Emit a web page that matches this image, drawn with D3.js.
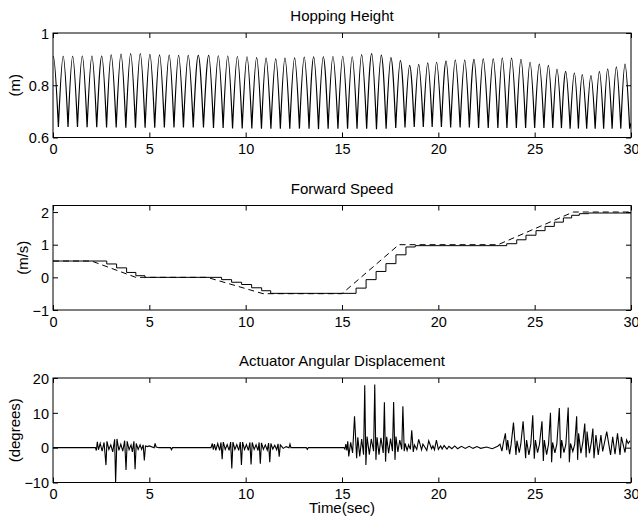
<!DOCTYPE html>
<html>
<head>
<meta charset="utf-8">
<script src="https://cdn.jsdelivr.net/npm/d3@7"></script>
<style>
  html, body { margin: 0; padding: 0; background: #fff; }
  svg { display: block; }
  text { font-family: "Liberation Sans", Arial, Helvetica, sans-serif; fill: #000; }
</style>
</head>
<body>
<svg id="chart" width="638" height="523"></svg>
<script>
// ---------------- DATA ----------------
const xTicks = [0, 5, 10, 15, 20, 25, 30];

// Plot 1: Hopping Height (m)
const hopTicks = [0.6, 0.8, 1];
const hopPeakT = [0.02,0.53,1.02,1.52,2.02,2.53,3.02,3.53,4.03,4.53,5.03,5.53,6.03,6.52,7.02,7.54,8.08,8.58,9.07,9.57,10.07,10.57,11.06,11.56,12.04,12.54,13.04,13.53,14.03,14.53,15.04,15.53,16.02,16.54,17.04,17.54,18.03,18.51,18.98,19.45,19.91,20.4,20.88,21.37,21.85,22.33,22.85,23.32,23.8,24.29,24.76,25.24,25.71,26.16,26.61,27.06,27.47,27.92,28.36,28.79,29.24,29.69];
const hopPeakH = [0.910,0.911,0.911,0.912,0.912,0.912,0.916,0.919,0.921,0.921,0.918,0.916,0.915,0.914,0.914,0.914,0.914,0.913,0.912,0.910,0.909,0.906,0.904,0.901,0.904,0.905,0.908,0.909,0.909,0.910,0.911,0.909,0.917,0.921,0.915,0.906,0.894,0.876,0.880,0.886,0.888,0.892,0.896,0.896,0.899,0.901,0.901,0.904,0.904,0.899,0.888,0.881,0.876,0.862,0.853,0.847,0.841,0.837,0.853,0.863,0.870,0.881];
const hopTroughT = [0.28,0.78,1.27,1.77,2.27,2.78,3.28,3.78,4.28,4.78,5.28,5.78,6.28,6.77,7.28,7.81,8.33,8.83,9.32,9.82,10.32,10.82,11.31,11.8,12.29,12.79,13.29,13.78,14.28,14.79,15.29,15.78,16.28,16.79,17.29,17.79,18.27,18.75,19.22,19.68,20.16,20.64,21.13,21.61,22.09,22.59,23.09,23.56,24.05,24.53,25.0,25.48,25.94,26.39,26.84,27.27,27.7,28.14,28.58,29.02,29.47,29.93];
const hopTroughH = [0.640,0.640,0.640,0.639,0.639,0.638,0.638,0.637,0.637,0.637,0.637,0.638,0.638,0.638,0.638,0.638,0.636,0.636,0.635,0.635,0.635,0.634,0.634,0.634,0.634,0.634,0.634,0.632,0.634,0.634,0.634,0.634,0.634,0.632,0.634,0.636,0.638,0.640,0.640,0.640,0.640,0.638,0.638,0.638,0.636,0.636,0.636,0.636,0.636,0.636,0.636,0.636,0.636,0.636,0.634,0.634,0.634,0.634,0.634,0.634,0.634,0.634];
const hopStart = [-0.23, 0.640];
const hopEnd = [30, 0.655];

// Plot 2: Forward Speed (m/s)
const speedTicks = [-1, 0, 1, 2];
const desiredT = [0, 2.0, 4.3, 8.0, 10.9, 15.0, 17.95, 23.1, 27.0, 30];
const desiredV = [0.5, 0.5, 0, 0, -0.5, -0.5, 1.0, 1.0, 2.0, 2.0];
const actualT = [0, 2.79, 3.3, 3.82, 4.3, 4.77, 8.75, 9.27, 9.79, 10.31, 10.83, 11.3, 15.73, 16.25, 16.77, 17.28, 17.8, 18.32, 18.8, 23.55, 24.07, 24.55, 25.07, 25.54, 26.02, 26.49, 26.92, 27.32, 27.8, 30];
const actualV = [0.5, 0.41, 0.29, 0.15, 0.05, 0.0, -0.07, -0.15, -0.22, -0.32, -0.41, -0.49, -0.33, -0.07, 0.18, 0.42, 0.69, 0.93, 0.97, 1.03, 1.15, 1.29, 1.43, 1.56, 1.69, 1.82, 1.9, 1.95, 1.97, 1.97];

// Plot 3: Actuator Angular Displacement (degrees)
const actTicks = [-10, 0, 10, 20];
const actT = [0,2.2,2.25,2.3,2.36,2.45,2.55,2.65,2.75,2.8,2.9,3.0,3.1,3.2,3.25,3.32,3.42,3.52,3.62,3.72,3.79,3.85,3.95,4.05,4.12,4.2,4.26,4.32,4.42,4.52,4.6,4.68,4.74,4.8,4.9,5.0,5.25,5.3,5.35,5.5,6.1,6.15,6.2,8.2,
  8.27,8.32,8.38,8.45,8.55,8.65,8.72,8.78,8.84,8.94,9.04,9.14,9.22,9.28,9.34,9.44,9.54,9.64,9.72,9.78,9.84,9.94,10.04,10.14,10.22,10.28,10.34,10.44,10.54,10.64,10.7,10.76,10.82,10.92,11.02,11.12,11.19,11.25,11.31,11.41,11.51,11.61,11.68,11.74,11.8,11.95,12.1,12.25,12.3,12.35,12.5,13.15,13.2,13.25,15.1,
  15.15,15.2,15.25,15.3,15.35,15.45,15.55,15.65,15.76,15.82,15.92,16.02,16.12,16.18,16.24,16.3,16.42,16.52,16.64,16.7,16.76,16.82,16.92,17.02,17.14,17.2,17.26,17.32,17.42,17.52,17.62,17.68,17.75,17.8,17.9,18.0,18.1,18.16,18.23,18.28,18.38,18.46,18.55,18.62,18.7,18.76,18.88,18.98,19.13,19.2,19.32,19.4,19.5,19.65,19.72,19.8,19.9,20.0,20.12,20.2,20.3,20.45,20.55,20.7,20.85,21.0,21.2,21.4,21.6,21.8,22.0,22.2,22.5,22.8,23.1,
  23.2,23.3,23.38,23.48,23.55,23.6,23.7,23.78,23.9,24.03,24.08,24.2,24.28,24.4,24.53,24.58,24.7,24.8,24.9,24.98,25.04,25.15,25.25,25.38,25.45,25.5,25.62,25.72,25.82,25.88,25.93,26.05,26.15,26.28,26.35,26.4,26.52,26.62,26.74,26.8,26.86,26.98,27.08,27.18,27.23,27.28,27.4,27.5,27.6,27.67,27.72,27.84,27.94,28.02,28.08,28.18,28.3,28.44,28.53,28.74,28.94,29.05,29.17,29.3,29.43,29.5,29.69,29.77,29.86,29.95,30];
const actV = [0,0,-0.8,1.7,-0.6,1.2,-1.0,1.5,-5.0,1.8,-0.5,0.8,-1.2,2.4,-10,2.5,-0.8,1.0,-1.0,2.0,-6.4,1.8,-0.6,0.8,-1.2,1.8,-6.2,1.2,-0.5,0.8,-0.5,0.8,-3.7,0.5,0.3,0.5,0,1.2,0.2,0,0,-0.6,0,0,
  1.2,-0.6,1.0,-0.8,1.2,-0.8,1.5,-3.3,1.6,-0.5,0.9,-0.8,1.6,-6.0,1.6,-0.5,0.9,-0.8,1.6,-5.0,1.6,-0.5,0.9,-0.8,1.5,-4.8,1.5,-0.5,0.8,-0.8,1.5,-4.6,1.4,-0.5,0.8,-0.7,1.3,-4.2,1.2,-0.4,0.7,-0.6,1.1,-2.6,0.8,-0.2,0.3,0,1.0,0,0,0,-0.5,0,0,
  -0.4,1.0,-0.8,1.8,-2.5,1.5,-1.5,9.0,-3.0,3.0,-2.5,2.5,-2.0,17.9,-5.0,3.2,-2.0,2.5,-1.0,18.1,-3.5,3.0,-2.0,2.8,-1.5,13.0,-4.0,3.1,-1.6,2.6,-1.0,13.1,-3.5,3.2,-1.2,2.2,-0.5,11.9,-1.0,1.2,-0.8,0.8,-0.5,5.0,-1.2,0.8,-0.5,2.4,-0.6,1.0,0,-0.8,2.0,-0.3,0.5,-0.6,2.2,-0.5,0.5,-0.4,0.6,-0.4,0.4,-0.3,0.5,-0.3,0.4,-0.2,0.4,-0.2,0.3,-0.2,0.2,-0.3,
  0.5,1.0,-1.0,1.5,4.1,-0.7,2.2,-1.9,1.0,7.2,-2.1,2.0,-1.4,1.0,7.6,-3.0,2.2,-2.1,1.0,9.3,-3.2,2.2,-1.4,1.0,7.6,-3.8,2.2,-2.0,1.0,10.0,-4.2,1.5,-1.5,1.0,11.4,-3.0,2.2,-1.4,1.0,11.5,-4.2,1.2,-1.1,1.0,9.0,-3.5,4.1,-1.6,1.5,6.9,-2.8,4.6,-1.6,1.5,5.5,-3.0,3.6,-2.1,3.6,-1.1,4.6,-2.1,3.1,-1.9,4.1,-2.1,3.1,-1.4,2.2,1.2,2.0];

// ---------------- LAYOUT ----------------
const L = 53, R = 631;
const panelH = 104.5;
const panels = [
  { title: "Hopping Height", ylabel: "(m)", top: 33, domain: [0.6, 1], ticks: hopTicks, fmt: d => d === 1 ? "1" : d3.format(".1f")(d), ylabX: 20 },
  { title: "Forward Speed", ylabel: "(m/s)", top: 205.5, domain: [-1, 2.2], ticks: speedTicks, fmt: d => d < 0 ? "\u2212" + Math.abs(d) : String(d), ylabX: 28 },
  { title: "Actuator Angular Displacement", ylabel: "(degrees)", top: 378, domain: [-10, 20], ticks: actTicks, fmt: d => d < 0 ? "\u2212" + Math.abs(d) : String(d), ylabX: 20 }
];

const svg = d3.select("#chart");
const x = d3.scaleLinear().domain([0, 30]).range([L, R]);

panels.forEach((p, i) => {
  const y = d3.scaleLinear().domain(p.domain).range([p.top + panelH, p.top]);
  p.y = y;
  const g = svg.append("g");

  const clipId = "clip" + i;
  svg.append("clipPath").attr("id", clipId).append("rect")
    .attr("x", L).attr("y", p.top).attr("width", R - L).attr("height", panelH);

  const fs = "14.5px";
  const bottom = g.append("g").attr("transform", `translate(0,${p.top + panelH})`)
    .call(d3.axisBottom(x).tickValues(xTicks).tickSizeInner(-5).tickSizeOuter(0).tickPadding(6.5).tickFormat(d3.format("d")));
  const top = g.append("g").attr("transform", `translate(0,${p.top})`)
    .call(d3.axisTop(x).tickValues(xTicks).tickSizeInner(-5).tickSizeOuter(0).tickFormat(""));
  const left = g.append("g").attr("transform", `translate(${L},0)`)
    .call(d3.axisLeft(y).tickValues(p.ticks).tickSizeInner(-5).tickSizeOuter(0).tickPadding(4).tickFormat(p.fmt));
  const right = g.append("g").attr("transform", `translate(${R},0)`)
    .call(d3.axisRight(y).tickValues(p.ticks).tickSizeInner(-5).tickSizeOuter(0).tickFormat(""));
  [bottom, top, left, right].forEach(a => {
    a.select(".domain").remove();
    a.selectAll("line").attr("stroke", "#000").attr("stroke-width", 1);
    a.selectAll("text").style("font-size", fs).style("font-family", '"Liberation Sans", Arial, sans-serif').attr("fill", "#000");
  });
  left.selectAll("text").attr("dy", "0.36em");

  g.append("rect").attr("x", L).attr("y", p.top).attr("width", R - L).attr("height", panelH)
    .attr("fill", "none").attr("stroke", "#000").attr("stroke-width", 1);

  g.append("text").attr("x", (L + R) / 2).attr("y", p.top - 12)
    .attr("text-anchor", "middle").style("font-size", "15px").text(p.title);

  g.append("text").attr("transform", `translate(${p.ylabX},${p.top + panelH / 2}) rotate(-90)`)
    .attr("text-anchor", "middle").style("font-size", "15px").text(p.ylabel);

  p.plot = svg.append("g").attr("clip-path", `url(#${clipId})`);
});

// Plot 1 series: one flight arc per hop (trough -> peak -> trough), arcs meet at the troughs
const arcLine = d3.line().x(d => x(d[0])).y(d => panels[0].y(d[1])).curve(d3.curveNatural);
let hopD = "";
hopPeakT.forEach((t, i) => {
  const prev = i === 0 ? hopStart : [hopTroughT[i - 1], hopTroughH[i - 1]];
  const next = i === hopPeakT.length - 1 ? [hopTroughT[i], hopTroughH[i]] : [hopTroughT[i], hopTroughH[i]];
  hopD += arcLine([prev, [t, hopPeakH[i]], next]);
});
hopD += arcLine([[hopTroughT[hopTroughT.length - 1], hopTroughH[hopTroughH.length - 1]], hopEnd]);
panels[0].plot.append("path")
  .attr("fill", "none").attr("stroke", "#000").attr("stroke-width", 1.2)
  .attr("d", hopD);

// Plot 2 series
panels[1].plot.append("path").datum(desiredT.map((t, i) => [t, desiredV[i]]))
  .attr("fill", "none").attr("stroke", "#000").attr("stroke-width", 1).attr("stroke-dasharray", "6,4")
  .attr("d", d3.line().x(d => x(d[0])).y(d => panels[1].y(d[1])));
panels[1].plot.append("path").datum(actualT.map((t, i) => [t, actualV[i]]))
  .attr("fill", "none").attr("stroke", "#000").attr("stroke-width", 1)
  .attr("d", d3.line().x(d => x(d[0])).y(d => panels[1].y(d[1])).curve(d3.curveStepAfter));

// Plot 3 series
panels[2].plot.append("path").datum(actT.map((t, i) => [t, actV[i]]))
  .attr("fill", "none").attr("stroke", "#000").attr("stroke-width", 1.1).attr("stroke-linejoin", "miter")
  .attr("d", d3.line().x(d => x(d[0])).y(d => panels[2].y(d[1])));

// x label
svg.append("text").attr("x", (L + R) / 2).attr("y", 513)
  .attr("text-anchor", "middle").style("font-size", "15px").text("Time(sec)");
</script>
</body>
</html>
